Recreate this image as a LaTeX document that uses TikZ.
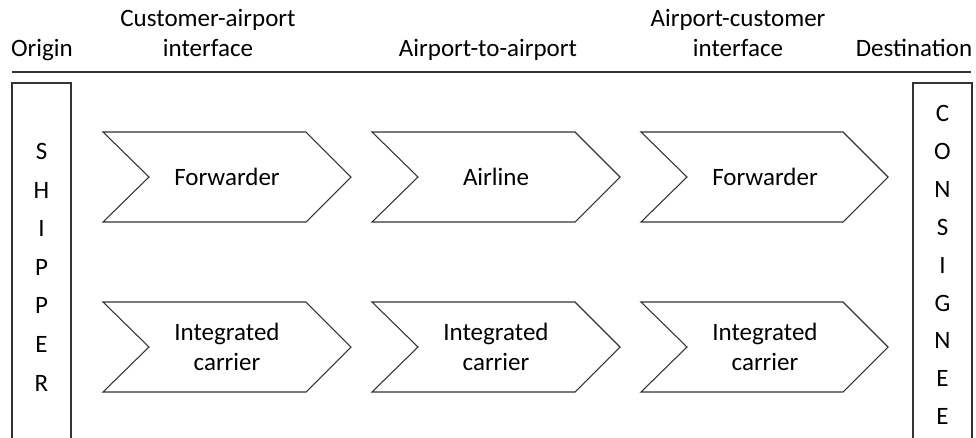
\documentclass[tikz,border=0pt]{standalone}
\usepackage{fontspec}
\setmainfont{Carlito}

\def\rowa{177}
\def\rowb{347}

\begin{document}
\begin{tikzpicture}[x=0.75pt,y=-0.75pt,
    every node/.style={font=\fontsize{18.75}{22.5}\selectfont,inner sep=0pt},
    header/.style={align=center,anchor=south,text depth=0pt},
    chev/.style={draw=black!80,line width=0.8pt,line join=miter},
    sidebox/.style={draw=black!80,line width=0.8pt},
    chevtext/.style={align=center}]
    \clip (0,0) rectangle (976,437);

    \node[header] (origin) at (42,57) {Origin};
    \node[header] (custair) at (208,57) {Customer-airport\\interface};
    \node[header] (airair) at (488,57) {Airport-to-airport};
    \node[header] (aircust) at (738,57) {Airport-customer\\interface};
    \node[header] (dest) at (914,57) {Destination};

    \draw[line width=1.1pt,black!80] (12,72) -- (971,72);

    \draw[sidebox] (12,83) rectangle (71,460);
    \node (s1) at (41.5,151) {S};
    \node (s2) at (41.5,190) {H};
    \node (s3) at (41.5,228) {I};
    \node (s4) at (41.5,267) {P};
    \node (s5) at (41.5,305) {P};
    \node (s6) at (41.5,344) {E};
    \node (s7) at (41.5,383) {R};

    \draw[sidebox] (913,83) rectangle (972,460);
    \node (c1) at (942.5,113) {C};
    \node (c2) at (942.5,151) {O};
    \node (c3) at (942.5,189) {N};
    \node (c4) at (942.5,227) {S};
    \node (c5) at (942.5,265) {I};
    \node (c6) at (942.5,303) {G};
    \node (c7) at (942.5,340) {N};
    \node (c8) at (942.5,378) {E};
    \node (c9) at (942.5,416) {E};

    \draw[chev] (103,\rowa-45) -- (306,\rowa-45) -- (351,\rowa) -- (306,\rowa+45) -- (103,\rowa+45) -- (149,\rowa) -- cycle;
    \draw[chev] (372,\rowa-45) -- (575,\rowa-45) -- (620,\rowa) -- (575,\rowa+45) -- (372,\rowa+45) -- (418,\rowa) -- cycle;
    \draw[chev] (641,\rowa-45) -- (843,\rowa-45) -- (888,\rowa) -- (843,\rowa+45) -- (641,\rowa+45) -- (687,\rowa) -- cycle;
    \node[chevtext] (fwd1) at (227,\rowa) {Forwarder};
    \node[chevtext] (airline) at (496,\rowa) {Airline};
    \node[chevtext] (fwd2) at (765,\rowa) {Forwarder};

    \draw[chev] (103,\rowb-45) -- (306,\rowb-45) -- (351,\rowb) -- (306,\rowb+45) -- (103,\rowb+45) -- (149,\rowb) -- cycle;
    \draw[chev] (372,\rowb-45) -- (575,\rowb-45) -- (620,\rowb) -- (575,\rowb+45) -- (372,\rowb+45) -- (418,\rowb) -- cycle;
    \draw[chev] (641,\rowb-45) -- (843,\rowb-45) -- (888,\rowb) -- (843,\rowb+45) -- (641,\rowb+45) -- (687,\rowb) -- cycle;
    \node[chevtext] (int1) at (227,\rowb) {Integrated\\carrier};
    \node[chevtext] (int2) at (496,\rowb) {Integrated\\carrier};
    \node[chevtext] (int3) at (765,\rowb) {Integrated\\carrier};
\end{tikzpicture}
\end{document}
